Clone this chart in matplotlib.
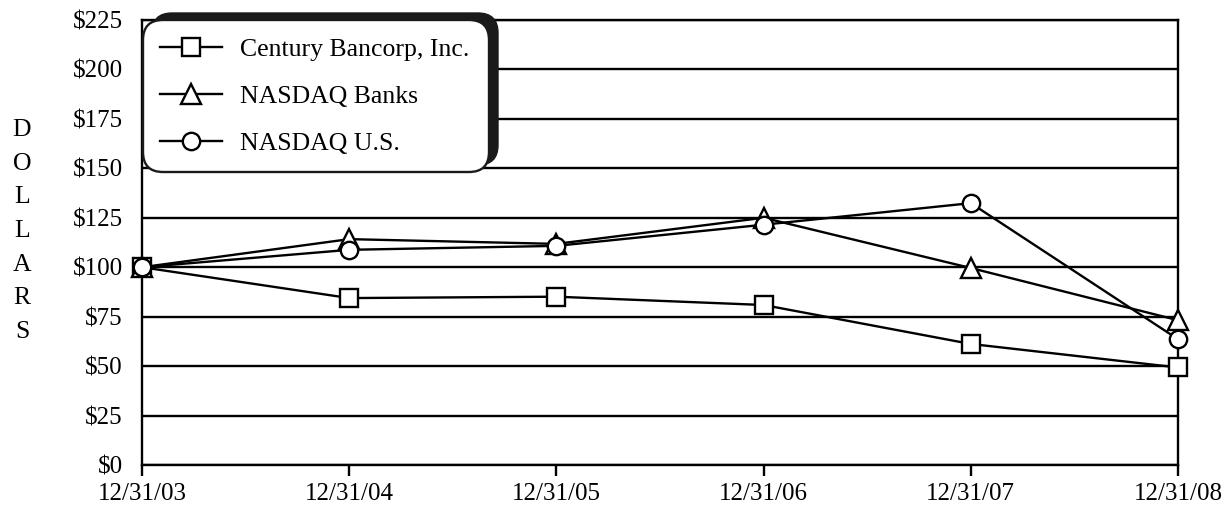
import matplotlib
matplotlib.use('Agg')
import matplotlib.pyplot as plt
from matplotlib.patches import FancyBboxPatch

plt.rcParams['font.family'] = ['Liberation Serif', 'DejaVu Serif']

dates = ['12/31/03', '12/31/04', '12/31/05', '12/31/06', '12/31/07', '12/31/08']
century = [100, 84.4, 85.1, 80.9, 61.2, 49.3]
nasdaq_banks = [100, 114.2, 111.8, 125.0, 99.6, 73.2]
nasdaq_us = [100, 108.8, 110.8, 121.5, 132.4, 63.6]
yticks = [0, 25, 50, 75, 100, 125, 150, 175, 200, 225]

fig = plt.figure(figsize=(12.27, 5.07), dpi=100)
ax = fig.add_axes([142 / 1227, 42 / 507, 1036 / 1227, 445 / 507])

x = list(range(len(dates)))
style = dict(color='black', linewidth=1.7, markerfacecolor='white',
             markeredgecolor='black', markeredgewidth=1.7, clip_on=False, zorder=3)
ax.plot(x, century, marker='s', markersize=12.5, label='Century Bancorp, Inc.', **style)
ax.plot(x, nasdaq_banks, marker='^', markersize=15, label='NASDAQ Banks', **style)
ax.plot(x, nasdaq_us, marker='o', markersize=12.5, label='NASDAQ U.S.', **style)

ax.set_xlim(0, 5)
ax.set_ylim(0, 225)
ax.set_yticks(yticks)
ax.set_yticklabels(['$%d' % v for v in yticks])
ax.set_xticks(x)
ax.set_xticklabels(dates)
for v in yticks:
    ax.axhline(v, color='black', linewidth=1.7, zorder=1)
for s in ax.spines.values():
    s.set_linewidth(1.7)
    s.set_color('black')
ax.tick_params(axis='y', length=0, pad=14, labelsize=18)
ax.tick_params(axis='x', length=8, width=1.7, pad=5, labelsize=18, direction='out')

fig.text(22 / 1227, 1 - 231 / 507, 'D\nO\nL\nL\nA\nR\nS', ha='center', va='center',
         fontsize=18.5, linespacing=1.68)

# legend box with dark shadow
shadow = FancyBboxPatch((1.52, 3.42), 3.46, 1.52, boxstyle='round,pad=0,rounding_size=0.2',
                        transform=fig.dpi_scale_trans, facecolor='#1a1a1a',
                        edgecolor='#1a1a1a', zorder=8)
box = FancyBboxPatch((1.43, 3.35), 3.46, 1.52, boxstyle='round,pad=0,rounding_size=0.2',
                     transform=fig.dpi_scale_trans, facecolor='white',
                     edgecolor='#1a1a1a', linewidth=1.7, zorder=9)
fig.patches.extend([shadow, box])

leg = fig.legend(loc='upper left', bbox_to_anchor=(160 / 1227, 1 - 38 / 507), frameon=False,
                 fontsize=18.5, handlelength=2.4, handletextpad=0.7, labelspacing=0.93,
                 borderaxespad=0, borderpad=0)
leg.set_zorder(10)

fig.savefig('out.png', dpi=100)
